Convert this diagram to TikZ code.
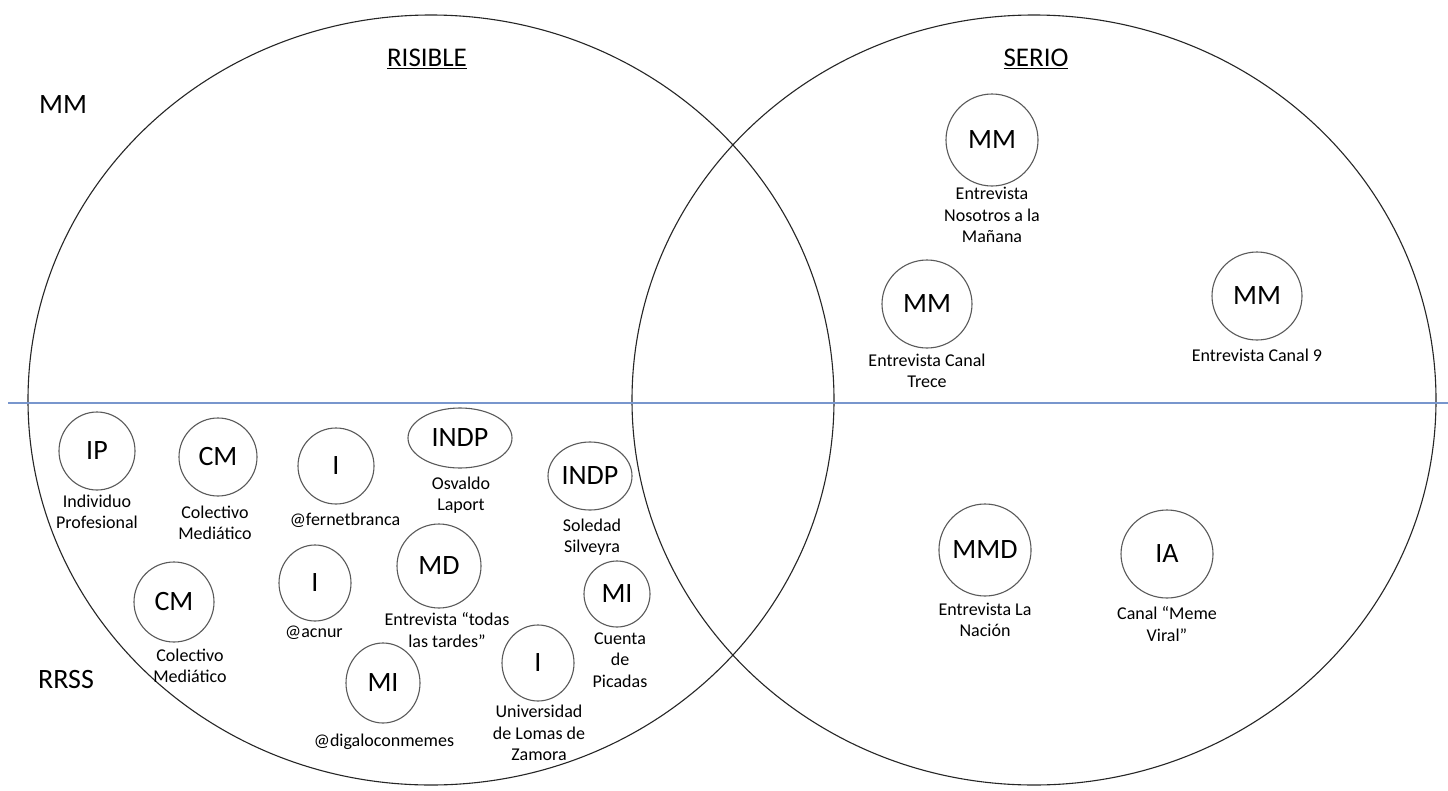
\documentclass[tikz,border=0pt]{standalone}
\usepackage{fontspec}
\setmainfont{Carlito}
\usetikzlibrary{shapes.geometric}
\definecolor{sepblue}{RGB}{120,150,205}
\definecolor{bubgray}{RGB}{90,90,90}
\begin{document}
\begin{tikzpicture}[x=1pt,y=-1pt,
  bub/.style={ellipse,draw=bubgray,line width=1.1pt,inner sep=0pt,font=\fontsize{28}{28}\selectfont},
  lab/.style={align=center,font=\fontsize{18}{21.5}\selectfont,inner sep=0pt},
  big/.style={font=\fontsize{28}{28}\selectfont,inner sep=0pt},
  head/.style={font=\fontsize{27}{27}\selectfont,inner sep=0pt},
  venn/.style={draw=black!85,line width=1.1pt}]
\useasboundingbox (0,0) rectangle (1448,790);
\fill[white] (0,0) rectangle (1448,790);
% Venn circles
\draw[venn] (431,400) ellipse [x radius=403pt, y radius=385pt];
\draw[venn] (1034,400) ellipse [x radius=402pt, y radius=385pt];
% separator
\draw[sepblue,line width=1.3pt] (8,403) -- (1448,403);
% headings
\node[head] (risible) at (427,59) {\underline{RISIBLE}};
\node[head] (serio) at (1036,59) {\underline{SERIO}};
\node[big] (mmrow) at (63,105) {MM};
\node[big] (rrss) at (66,680) {RRSS};
% SERIO / MM
\node[bub,minimum width=92pt,minimum height=92pt] (b1) at (992,140) {MM};
\node[lab] (l1) at (992,215) {Entrevista\\Nosotros a la\\Mañana};
\node[bub,minimum width=90pt,minimum height=88pt] (b2) at (927,304) {MM};
\node[lab] (l2) at (927,371) {Entrevista Canal\\Trece};
\node[bub,minimum width=90pt,minimum height=88pt] (b3) at (1257,296) {MM};
\node[lab] (l3) at (1257,355) {Entrevista Canal 9};
% SERIO / RRSS
\node[bub,minimum width=91pt,minimum height=92pt] (b4) at (985,550) {MMD};
\node[lab] (l4) at (985,620) {Entrevista La\\Nación};
\node[bub,minimum width=92pt,minimum height=88pt] (b5) at (1167,554) {IA};
\node[lab] (l5) at (1167,624) {Canal “Meme\\Viral”};
% RISIBLE / RRSS
\node[bub,minimum width=76pt,minimum height=78pt] (c1) at (97,451) {IP};
\node[lab] (k1) at (97,512) {Individuo\\Profesional};
\node[bub,minimum width=78pt,minimum height=78pt] (c2) at (218,457) {CM};
\node[lab] (k2) at (215,523) {Colectivo\\Mediático};
\node[bub,minimum width=76pt,minimum height=76pt] (c3) at (336,466) {I};
\node[lab] (k3) at (345,520) {@fernetbranca};
\node[bub,minimum width=104pt,minimum height=60pt] (c4) at (460,438) {INDP};
\node[lab] (k4) at (461,495) {Osvaldo\\Laport};
\node[bub,minimum width=84pt,minimum height=68pt] (c5) at (590,476) {INDP};
\node[lab] (k5) at (592,537) {Soledad\\Silveyra};
\node[bub,minimum width=80pt,minimum height=80pt] (c6) at (174,602) {CM};
\node[lab] (k6) at (190,666) {Colectivo\\Mediático};
\node[bub,minimum width=72pt,minimum height=76pt] (c7) at (315,583) {I};
\node[lab] (k7) at (314,633) {@acnur};
\node[bub,minimum width=84pt,minimum height=84pt] (c8) at (439,566) {MD};
\node[lab] (k8) at (447,630) {Entrevista “todas\\las tardes”};
\node[bub,minimum width=66pt,minimum height=66pt] (c9) at (617,594) {MI};
\node[lab] (k9) at (620,660) {Cuenta\\de\\Picadas};
\node[bub,minimum width=74pt,minimum height=80pt] (c10) at (383,683) {MI};
\node[lab] (k10) at (384,742) {@digaloconmemes};
\node[bub,minimum width=72pt,minimum height=76pt] (c11) at (538,663) {I};
\node[lab] (k11) at (539,733) {Universidad\\de Lomas de\\Zamora};
\end{tikzpicture}
\end{document}
